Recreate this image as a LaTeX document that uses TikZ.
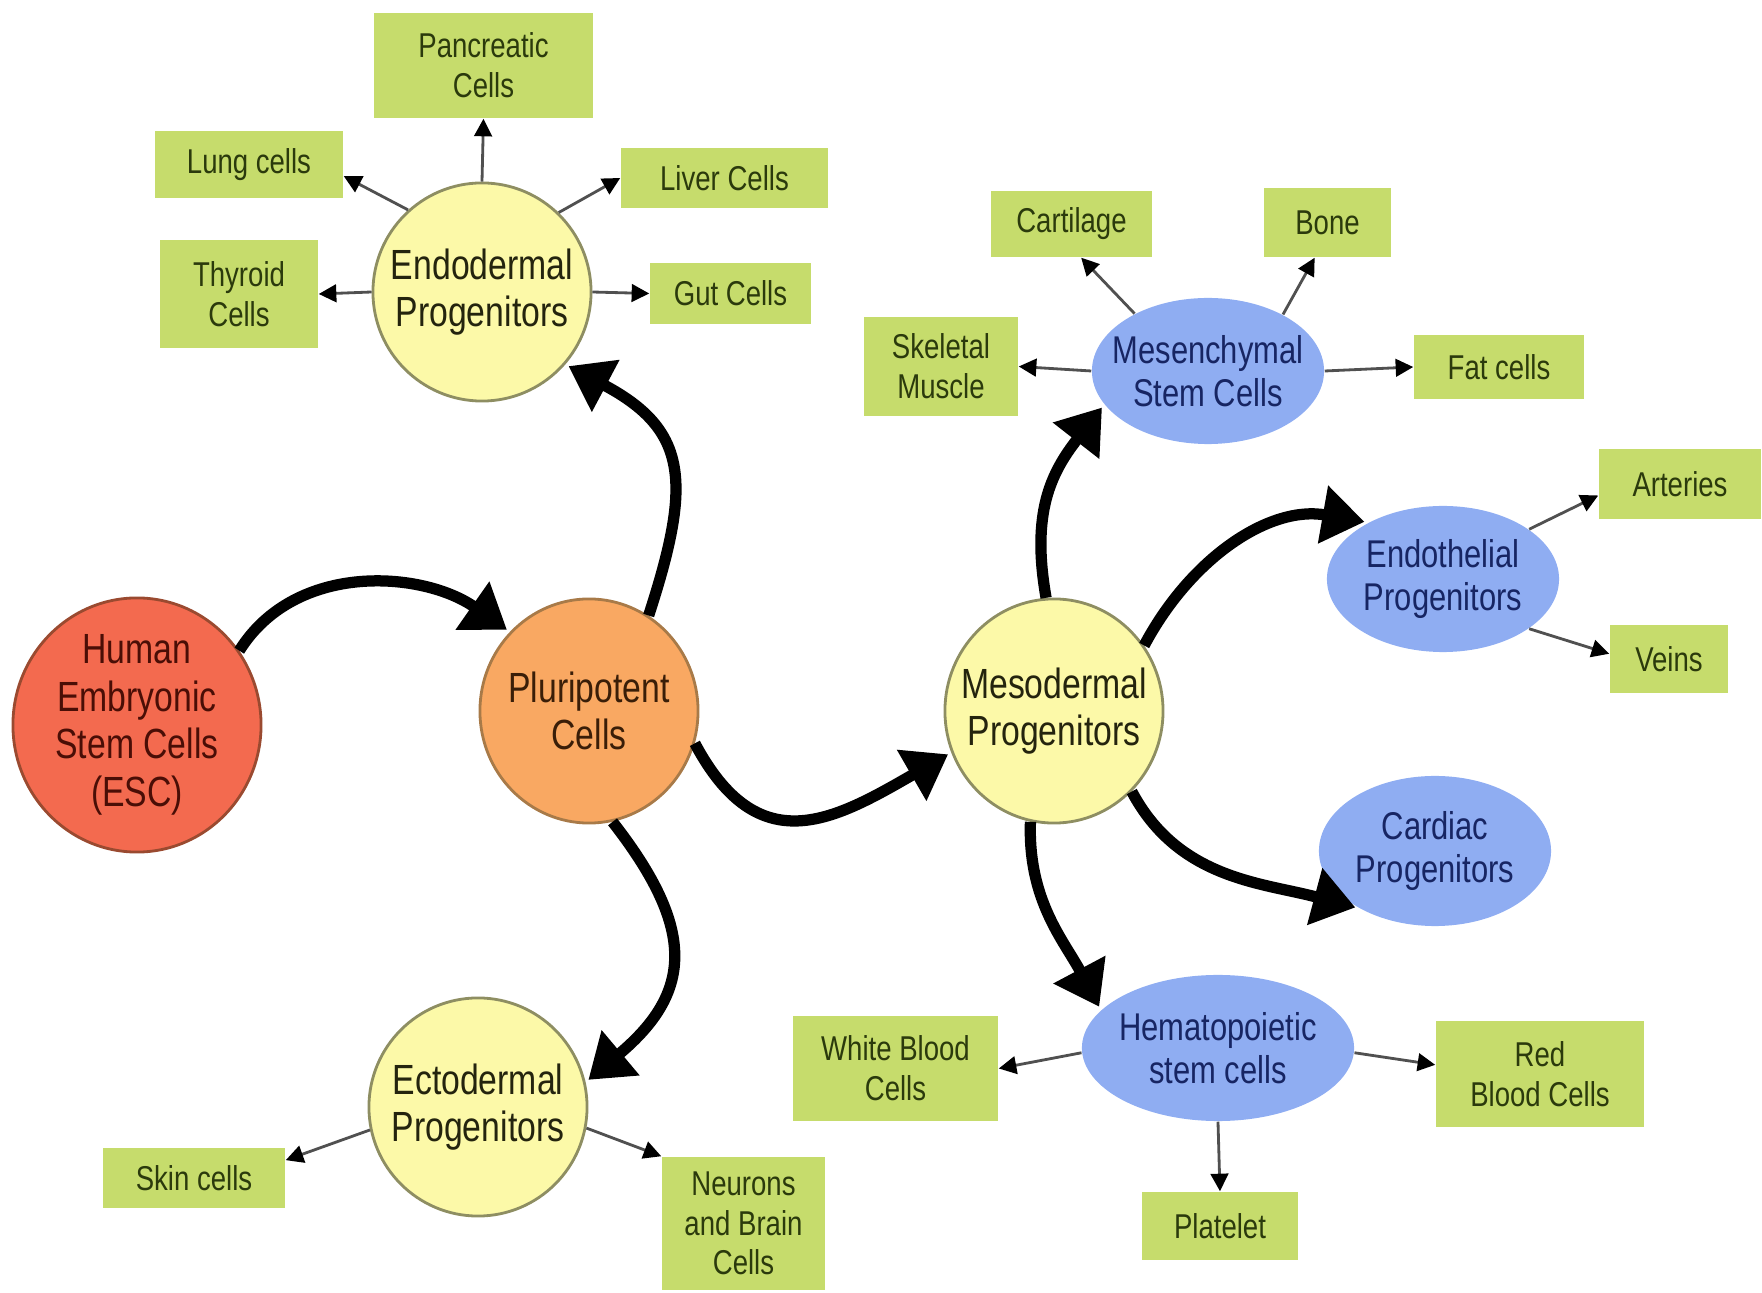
\documentclass[tikz,border=0pt]{standalone}
\usepackage{fontspec}
\setmainfont{Liberation Sans}[FakeStretch=0.8]
\usetikzlibrary{shapes.geometric,arrows.meta}
\definecolor{escfill}{HTML}{F36A4F}
\definecolor{escline}{HTML}{9A4A30}
\definecolor{esctext}{HTML}{4A0E06}
\definecolor{plufill}{HTML}{F9A862}
\definecolor{pluline}{HTML}{A87A48}
\definecolor{plutext}{HTML}{3A1E08}
\definecolor{yelfill}{HTML}{FCF9A8}
\definecolor{yelline}{HTML}{8E8E62}
\definecolor{yeltext}{HTML}{24240E}
\definecolor{bluefill}{HTML}{8FADF2}
\definecolor{bluetext}{HTML}{172563}
\definecolor{greenfill}{HTML}{C6DC6C}
\definecolor{greentext}{HTML}{2B3A0C}
\definecolor{thinline}{HTML}{505050}
\begin{document}
\begin{tikzpicture}[x=0.01cm,y=0.01cm,
  cell/.style={ellipse, inner sep=0pt},
  celltext/.style={align=center, inner sep=0pt, font=\fontsize{12}{13.5}\selectfont},
  esccell/.style={cell, fill=escfill, draw=escline, line width=0.8pt},
  plucell/.style={cell, fill=plufill, draw=pluline, line width=0.8pt},
  yelcell/.style={cell, fill=yelfill, draw=yelline, line width=0.8pt},
  bluecell/.style={cell, fill=bluefill},
  bluetxt/.style={align=center, inner sep=0pt, text=bluetext, font=\fontsize{11}{12.3}\selectfont},
  gbox/.style={rectangle, fill=greenfill, inner sep=0pt, align=center, text=greentext, font=\fontsize{9.8}{11.3}\selectfont},
  thin/.style={draw=thinline, line width=0.8pt, -{Triangle[length=5pt,width=5pt,color=black]}},
  bigarrow/.style={line width=3.2pt, -{Triangle[length=12pt,width=16pt]}, shorten >=1pt}
]
\useasboundingbox (0,0) rectangle (1762,1293);

% main cells
\node[esccell, minimum width=2.48cm, minimum height=2.54cm,
  label={[celltext, text=esctext]center:{Human\\Embryonic\\Stem Cells\\(ESC)}}] (esc) at (137,568) {};
\node[plucell, minimum width=2.18cm, minimum height=2.24cm,
  label={[celltext, text=plutext]center:{Pluripotent\\Cells}}] (plu) at (589,582) {};
\node[yelcell, minimum width=2.18cm, minimum height=2.18cm,
  label={[celltext, text=yeltext]center:{Endodermal\\Progenitors}}] (endo) at (482,1001) {};
\node[yelcell, minimum width=2.18cm, minimum height=2.18cm,
  label={[celltext, text=yeltext]center:{Ectodermal\\Progenitors}}] (ecto) at (478,186) {};
\node[yelcell, minimum width=2.18cm, minimum height=2.24cm,
  label={[celltext, text=yeltext]center:{Mesodermal\\Progenitors}}] (meso) at (1054,582) {};
\node[bluecell, minimum width=2.32cm, minimum height=1.46cm,
  label={[bluetxt]center:{Mesenchymal\\Stem Cells}}] (mes) at (1208,922) {};
\node[bluecell, minimum width=2.32cm, minimum height=1.46cm,
  label={[bluetxt]center:{Endothelial\\Progenitors}}] (endo2) at (1443,714) {};
\node[bluecell, minimum width=2.32cm, minimum height=1.50cm,
  label={[bluetxt]center:{Cardiac\\Progenitors}}] (card) at (1435,442) {};
\node[bluecell, minimum width=2.72cm, minimum height=1.46cm,
  label={[bluetxt]center:{Hematopoietic\\stem cells}}] (hema) at (1218,245) {};

% green boxes
\node[gbox, minimum width=2.19cm, minimum height=1.05cm] (panc) at (483.5,1227.5) {Pancreatic\\Cells};
\node[gbox, minimum width=1.88cm, minimum height=0.67cm] (lung) at (249,1128.5) {Lung cells};
\node[gbox, minimum width=2.07cm, minimum height=0.60cm] (liver) at (724.5,1115) {Liver Cells};
\node[gbox, minimum width=1.58cm, minimum height=1.08cm] (thyr) at (239,999) {Thyroid\\Cells};
\node[gbox, minimum width=1.61cm, minimum height=0.61cm] (gut) at (730.5,999.5) {Gut Cells};
\node[gbox, minimum width=1.61cm, minimum height=0.66cm] (cart) at (1071.5,1069) {Cartilage};
\node[gbox, minimum width=1.27cm, minimum height=0.69cm] (bone) at (1327.5,1070.5) {Bone};
\node[gbox, minimum width=1.54cm, minimum height=0.99cm] (skel) at (941,926.5) {Skeletal\\Muscle};
\node[gbox, minimum width=1.70cm, minimum height=0.64cm] (fat) at (1499,926) {Fat cells};
\node[gbox, minimum width=1.62cm, minimum height=0.70cm] (art) at (1680,809) {Arteries};
\node[gbox, minimum width=1.18cm, minimum height=0.68cm] (veins) at (1669,634) {Veins};
\node[gbox, minimum width=2.05cm, minimum height=1.05cm] (white) at (895.5,224.5) {White Blood\\Cells};
\node[gbox, minimum width=2.08cm, minimum height=1.06cm] (red) at (1540,219) {Red\\Blood Cells};
\node[gbox, minimum width=1.56cm, minimum height=0.68cm] (plat) at (1220,67) {Platelet};
\node[gbox, minimum width=1.82cm, minimum height=0.60cm] (skin) at (194,115) {Skin cells};
\node[gbox, minimum width=1.63cm, minimum height=1.33cm] (neur) at (743.5,69.5) {Neurons\\and Brain\\Cells};

% big curved arrows
\draw[bigarrow] (esc.36) to[out=58,in=145] (plu.135);
\draw[bigarrow] (plu.58) to[out=72,in=-28,looseness=1.35] (endo.-41);
\draw[bigarrow] (plu.-17) to[out=-62,in=210,looseness=1.35] (meso.202);
\draw[bigarrow] (plu.-78) to[out=-52,in=40,looseness=1.35] (ecto.13);
\draw[bigarrow] (meso.94) to[out=100,in=232,looseness=1.1] (mes.198);
\draw[bigarrow] (meso.36) to[out=62,in=170] (endo2.143);
\draw[bigarrow] (meso.-46) to[out=-62,in=165] (card.217);
\draw[bigarrow] (meso.258) to[out=-92,in=118] (hema.162);

% thin arrows
\draw[thin] (endo.90) -- (panc.south);
\draw[thin] (endo.132) -- (lung.-7);
\draw[thin] (endo.46) -- (liver.west);
\draw[thin] (endo.180) -- (thyr.east);
\draw[thin] (endo.0) -- (gut.west);
\draw[thin] (mes.142) -- (cart.-74);
\draw[thin] (mes.37) -- (bone.250);
\draw[thin] (mes.180) -- (skel.east);
\draw[thin] (mes.0) -- (fat.west);
\draw[thin] (endo2.30) -- (art.188);
\draw[thin] (endo2.-30) -- (veins.175);
\draw[thin] (hema.182) -- (white.east);
\draw[thin] (hema.-2) -- (red.175);
\draw[thin] (hema.south) -- (plat.north);
\draw[thin] (ecto.192) -- (skin.11);
\draw[thin] (ecto.-11) -- (neur.north west);
\end{tikzpicture}
\end{document}
